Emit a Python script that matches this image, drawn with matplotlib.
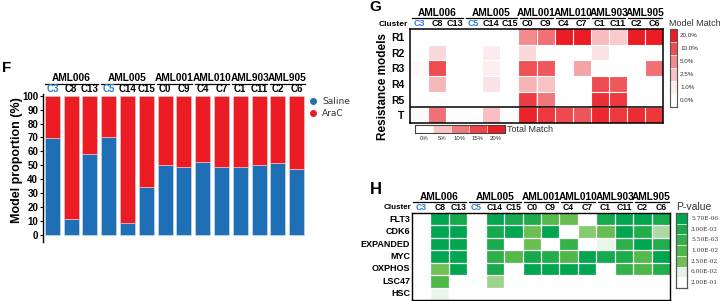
import numpy as np
import matplotlib
matplotlib.use('Agg')
import matplotlib.pyplot as plt
from matplotlib.colors import LinearSegmentedColormap
from matplotlib.transforms import Bbox

W, H = 720, 301
plt.rcParams['font.family'] = ['Liberation Sans', 'DejaVu Sans']

# ---------------- data ----------------
clusters = ['C3', 'C8', 'C13', 'C5', 'C14', 'C15', 'C0', 'C9', 'C4', 'C7', 'C1', 'C11', 'C2', 'C6']
blue_clusters = ['C3', 'C5']
group_names = ['AML006', 'AML005', 'AML001', 'AML010', 'AML903', 'AML905']
group_sizes = [3, 3, 2, 2, 2, 2]

saline_pct = [69.4, 11.5, 58.4, 70.1, 8.6, 34.2, 50.2, 49.0, 52.2, 48.6, 48.8, 50.5, 51.4, 47.6]
arac_pct = [100 - v for v in saline_pct]

res_rows = ['R1', 'R2', 'R3', 'R4', 'R5']
model_match = [
    [0, 0, 0, 0, 0, 0, 5.0, 7.0, 20, 20, 2.8, 2.2, 20, 20],
    [0, 1.8, 0, 0, 1.1, 0, 1.8, 0, 0, 0, 1.4, 0, 0, 0],
    [0.4, 10, 0, 0, 1.0, 0, 9.5, 9.0, 0, 3.8, 0, 0, 0, 7.0],
    [0, 3.0, 0, 0, 1.4, 0, 3.2, 2.5, 0, 0, 10, 9.0, 0, 0],
    [0, 0, 0, 0, 0, 0, 13, 6.5, 0, 0, 16, 14, 0, 0],
]
total_label = 'T'
total_match = [0.4, 11, 0.2, 0.1, 5.5, 0.2, 19, 16.5, 14.5, 13.5, 18.5, 16.5, 18, 16.5]
mm_levels = [20, 10, 5, 2.5, 1, 0]
mm_ticks = ['20.0%', '10.0%', '5.0%', '2.5%', '1.0%', '0.0%']
tm_levels = [0, 5, 10, 15, 20]
tm_ticks = ['0%', '5%', '10%', '15%', '20%']

sig_rows = ['FLT3', 'CDK6', 'EXPANDED', 'MYC', 'OXPHOS', 'LSC47', 'HSC']
pvals = [
    [0.2, 1e-5, 2e-3, 0.2, 1e-5, 3e-3, 3.5e-3, 1.2e-2, 2e-2, 0.2, 1e-3, 1e-5, 1e-5, 1e-3],
    [0.2, 1e-5, 1e-5, 0.2, 2e-3, 1e-5, 2.2e-2, 1e-5, 0.2, 3e-2, 2e-2, 1e-5, 4e-3, 4e-2],
    [0.2, 1e-5, 1e-5, 0.2, 3e-3, 0.2, 2.2e-2, 0.2, 6e-3, 0.2, 8e-2, 5e-3, 1e-5, 4e-3],
    [0.2, 1e-5, 1e-5, 0.2, 5e-3, 1.2e-2, 2e-3, 4e-3, 1e-2, 1e-5, 1e-3, 3.5e-3, 1.2e-2, 1e-5],
    [0.2, 2.5e-2, 1e-5, 0.2, 3e-3, 0.2, 1e-5, 1e-5, 1e-5, 1e-5, 0.2, 6e-3, 1e-2, 4e-3],
    [0.2, 1e-2, 0.2, 0.2, 3.5e-2, 0.2, 0.2, 0.2, 0.2, 0.2, 0.2, 0.2, 0.2, 0.2],
    [0.2, 8e-2, 0.2, 0.2, 0.2, 0.2, 0.2, 0.2, 0.2, 0.2, 0.2, 0.2, 0.2, 0.2],
]
p_levels = [5.70e-06, 3.00e-03, 5.50e-03, 1.00e-02, 2.50e-02, 6.00e-02, 2.00e-01]
p_ticks = ['5.70E-06', '3.00E-03', '5.50E-03', '1.00E-02', '2.50E-02', '6.00E-02', '2.00E-01']

# ---------------- colours ----------------
BLUE = '#1f6fb6'
RED = '#ec1c24'
LBLUE = '#2a7fd0'
cm_model = LinearSegmentedColormap.from_list('mm', [
    (0.0, '#ffffff'), (0.2, '#fdeff0'), (0.4, '#f8c3c5'),
    (0.6, '#f28a8e'), (0.8, '#ee4c52'), (1.0, '#ec1c24')])
cm_total = LinearSegmentedColormap.from_list('tm', [
    (0.0, '#ffffff'), (0.25, '#f9c6c8'), (0.5, '#f07c80'),
    (0.75, '#ee454b'), (1.0, '#ec1c24')])
cm_green = LinearSegmentedColormap.from_list('gr', [
    (0.0, '#ffffff'), (1/6, '#e4f2e4'), (2/6, '#70bf55'), (3/6, '#4fb849'),
    (4/6, '#31b04b'), (5/6, '#19ab4d'), (1.0, '#02a651')])


def mm_pos(v):
    return np.interp(v, [0, 1, 2.5, 5, 10, 20], [0, .2, .4, .6, .8, 1.0])


def p_pos(p):
    lp = np.log10(np.asarray(p, dtype=float))
    xs = np.log10(np.array(p_levels))          # ascending
    return np.interp(lp, xs, np.linspace(1, 0, len(p_levels)))

# ---------------- figure helpers ----------------
fig = plt.figure(figsize=(7.2, 3.01), dpi=100)


def add_ax(x0, y0, x1, y1):
    return fig.add_axes([x0 / W, 1 - y1 / H, (x1 - x0) / W, (y1 - y0) / H])


def ftext(x, y, s, **kw):
    kw.setdefault('va', 'center')
    return fig.text(x / W, 1 - y / H, s, **kw)


def fline(x0, x1, y, lw=0.9):
    fig.add_artist(plt.Line2D([x0 / W, x1 / W], [1 - y / H, 1 - y / H],
                              color='black', lw=lw, transform=fig.transFigure))


def headers(x0, pitch, yg, yl, yc, gsize, csize, inset_l, inset_r):
    start = 0
    for name, n in zip(group_names, group_sizes):
        xa = x0 + start * pitch
        xb = x0 + (start + n) * pitch
        ftext((xa + xb) / 2, yg, name, ha='center', fontsize=gsize, fontweight='bold')
        fline(xa + inset_l, xb - inset_r, yl)
        start += n
    for i, c in enumerate(clusters):
        ftext(x0 + (i + 0.5) * pitch, yc, c, ha='center', fontsize=csize, fontweight='bold',
              color=LBLUE if c in blue_clusters else 'black')

# ---------------- panel F ----------------
axF = add_ax(43, 94, 306, 242)
x = np.arange(len(clusters))
axF.bar(x, saline_pct, width=0.8, color=BLUE, edgecolor='#d8e4f0', lw=0.4)
axF.bar(x, arac_pct, bottom=saline_pct, width=0.8, color=RED, edgecolor='#f5d0d0', lw=0.4)
axF.set_xlim(-0.5, 13.5)
axF.set_ylim(-5, 101.2)
for s in ['top', 'right', 'bottom']:
    axF.spines[s].set_visible(False)
axF.spines['left'].set_linewidth(1.0)
axF.set_xticks([])
axF.set_yticks(np.arange(0, 101, 10))
axF.set_yticklabels([str(v) for v in range(0, 101, 10)], fontsize=7, fontweight='bold')
axF.tick_params(axis='y', length=2.5, width=0.8, pad=1)
ftext(17, 160, 'Model proportion (%)', rotation=90, ha='center', fontsize=9, fontweight='bold')
pitchF = (306 - 43) / 14
headers(43, pitchF, 78, 83.5, 89, 7.3, 7, 1.5, 1.5)
ftext(2, 68, 'F', fontsize=11, fontweight='bold', ha='left')
# legend
for yy, col, lab in [(101, BLUE, 'Saline'), (113, RED, 'AraC')]:
    fig.add_artist(plt.Line2D([313 / W], [1 - yy / H], marker='o', ms=4, color=col,
                              lw=0, transform=fig.transFigure))
    ftext(322, yy, lab, fontsize=6.5, family='DejaVu Sans', ha='left', color='#333333')

# ---------------- panel G ----------------
gx0, gx1, gy0, gy1 = 410, 663, 29, 123
axG = add_ax(gx0, gy0, gx1, gy1)
nr = len(res_rows) + 1
rgb = np.zeros((nr, len(clusters), 4))
rgb[:len(res_rows)] = cm_model(mm_pos(np.array(model_match)))
rgb[len(res_rows)] = cm_total(np.clip(np.array(total_match) / 20, 0, 1))
axG.imshow(rgb, aspect='auto', extent=(-0.5, 13.5, nr - 0.5, -0.5), interpolation='nearest')
for i in range(1, len(clusters)):
    axG.axvline(i - 0.5, color='white', lw=0.8)
for j in range(1, nr):
    axG.axhline(j - 0.5, color='white', lw=0.8)
axG.axhline(len(res_rows) - 0.5, color='black', lw=1.1)
axG.set_xticks([])
axG.set_yticks(range(nr))
axG.set_yticklabels(res_rows + [total_label], fontsize=7.5, fontweight='bold')
axG.tick_params(axis='y', length=0, pad=4)
for s in axG.spines.values():
    s.set_linewidth(1.1)
pitchG = (gx1 - gx0) / 14
headers(gx0, pitchG, 13, 17.5, 24, 7.3, 6.5, 1.5, 1.5)
ftext(393, 24, 'Cluster', ha='center', fontsize=6, fontweight='bold')
ftext(383, 86, 'Resistance models', rotation=90, ha='center', fontsize=8.5, fontweight='bold')
ftext(369, 7, 'G', fontsize=11, fontweight='bold', ha='left')

# Model match colorbar
axMM = add_ax(670, 29, 677, 107)
axMM.imshow(cm_model(mm_pos(np.array(mm_levels)))[:, None, :], aspect='auto',
            extent=(0, 1, len(mm_levels), 0), interpolation='nearest')
for j in range(1, len(mm_levels)):
    axMM.axhline(j, color='white', lw=0.5)
axMM.set_xticks([]); axMM.set_yticks([])
for s in axMM.spines.values():
    s.set_linewidth(0.8); s.set_color('#555555')
for j, t in enumerate(mm_ticks):
    ftext(680, 29 + (j + 0.5) * 13, t, fontsize=4.5, ha='left', color='#333333')
ftext(669, 23, 'Model Match', fontsize=6.5, ha='left', color='#333333')

# Total match colorbar
axTM = add_ax(415, 125, 505, 133)
axTM.imshow(cm_total(np.array(tm_levels) / 20)[None, :, :], aspect='auto',
            extent=(0, len(tm_levels), 1, 0), interpolation='nearest')
for j in range(1, len(tm_levels)):
    axTM.axvline(j, color='white', lw=0.5)
axTM.set_xticks([]); axTM.set_yticks([])
for s in axTM.spines.values():
    s.set_linewidth(0.8); s.set_color('#444444')
for j, t in enumerate(tm_ticks):
    ftext(415 + (j + 0.5) * 18, 139, t, fontsize=4.3, ha='center', color='#333333')
ftext(507, 129.5, 'Total Match', fontsize=6.5, ha='left', color='#333333')

# ---------------- panel H ----------------
hx0, hx1, hy0, hy1 = 412, 670, 213, 300
axH = add_ax(hx0, hy0, hx1, hy1)
axH.imshow(cm_green(p_pos(pvals)), aspect='auto',
           extent=(-0.5, 13.5, len(sig_rows) - 0.5, -0.5), interpolation='nearest')
for i in range(1, len(clusters)):
    axH.axvline(i - 0.5, color='white', lw=0.9)
for j in range(1, len(sig_rows)):
    axH.axhline(j - 0.5, color='white', lw=0.9)
axH.set_xticks([])
axH.set_yticks([])
for s in axH.spines.values():
    s.set_linewidth(1.0)
rowh = (hy1 - hy0) / len(sig_rows)
clip = Bbox.from_extents(360, 0, 720, 301)
for j, r in enumerate(sig_rows):
    t = ftext(410, hy0 + (j + 0.5) * rowh, r, ha='right', fontsize=6.5, fontweight='bold')
    t.set_clip_box(clip)
    t.set_clip_on(True)
pitchH = (hx1 - hx0) / 14
headers(hx0, pitchH, 197, 202, 207.5, 7.3, 6.2, 1.5, 1.5)
ftext(397, 207.5, 'Cluster', ha='center', fontsize=5.8, fontweight='bold')
ftext(370, 189, 'H', fontsize=12, fontweight='bold', ha='left')

# P-value colorbar
axP = add_ax(676, 213, 687, 288)
axP.imshow(cm_green(p_pos(p_levels))[:, None, :], aspect='auto',
           extent=(0, 1, len(p_levels), 0), interpolation='nearest')
for j in range(1, len(p_levels)):
    axP.axhline(j, color='white', lw=0.5)
axP.set_xticks([]); axP.set_yticks([])
for s in axP.spines.values():
    s.set_linewidth(0.9); s.set_color('#555555')
ph = (288 - 213) / len(p_levels)
for j, t in enumerate(p_ticks):
    ftext(691, 213 + (j + 0.5) * ph, t, fontsize=4.2, ha='left', color='#333333',
          family='DejaVu Serif')
ftext(676, 207, 'P-value', fontsize=7.5, ha='left', color='#333333')

fig.savefig('out.png', dpi=100, facecolor='white')
